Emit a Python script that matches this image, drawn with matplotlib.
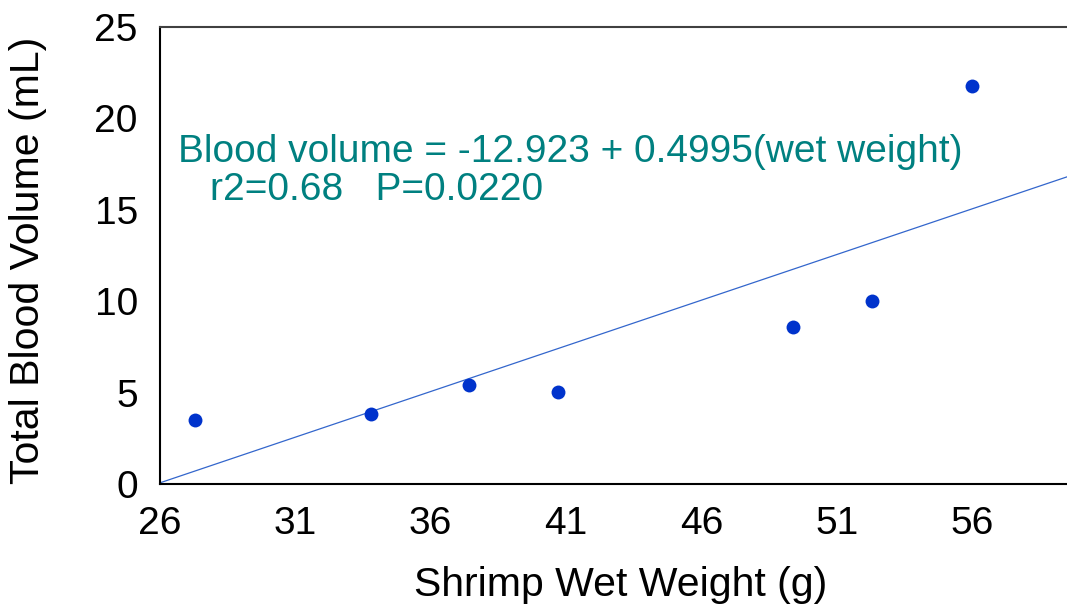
import numpy as np
import matplotlib
matplotlib.use('Agg')
import matplotlib.pyplot as plt

plt.rcParams['font.family'] = ['Liberation Sans', 'DejaVu Sans']

# Data
wet_weight = [27.3, 33.8, 37.4, 40.7, 49.4, 52.3, 56.0]
blood_volume = [3.5, 3.85, 5.4, 5.05, 8.6, 10.0, 21.75]
intercept = -12.923
slope = 0.4995
xticks = [26, 31, 36, 41, 46, 51, 56]
yticks = [0, 5, 10, 15, 20, 25]

fig = plt.figure(figsize=(10.67, 6.09), dpi=100)
ax = fig.add_axes([0.15, 0.2053, 0.8625, 0.7504])

ax.scatter(wet_weight, blood_volume, s=10**2, color='#0033cc', zorder=3, linewidths=0)

x_fit = np.array([26, 60])
ax.plot(x_fit, intercept + slope * x_fit, color='#3366cc', lw=0.9)

ax.set_xlim(26, 60)
ax.set_ylim(0, 25)
ax.set_xticks(xticks)
ax.set_yticks(yticks)
ax.tick_params(length=0, labelsize=28, pad=16)

ax.spines['right'].set_visible(False)
ax.spines['top'].set_color('#404040')
for s in ['left', 'bottom', 'top']:
    ax.spines[s].set_linewidth(1.5)

ax.set_xlabel('Shrimp Wet Weight (g)', fontsize=29.5)
ax.set_ylabel('Total Blood Volume (mL)', fontsize=29.5)
ax.xaxis.set_label_coords(0.5, -0.18)
ax.yaxis.set_label_coords(-0.123, 0.49)

ax.text(26.65, 17.6, 'Blood volume = -12.923 + 0.4995(wet weight)',
        color='#008080', fontsize=28, va='baseline')
ax.text(27.85, 15.54, 'r2=0.68   P=0.0220',
        color='#008080', fontsize=28, va='baseline')

fig.savefig('out.png', dpi=100)
